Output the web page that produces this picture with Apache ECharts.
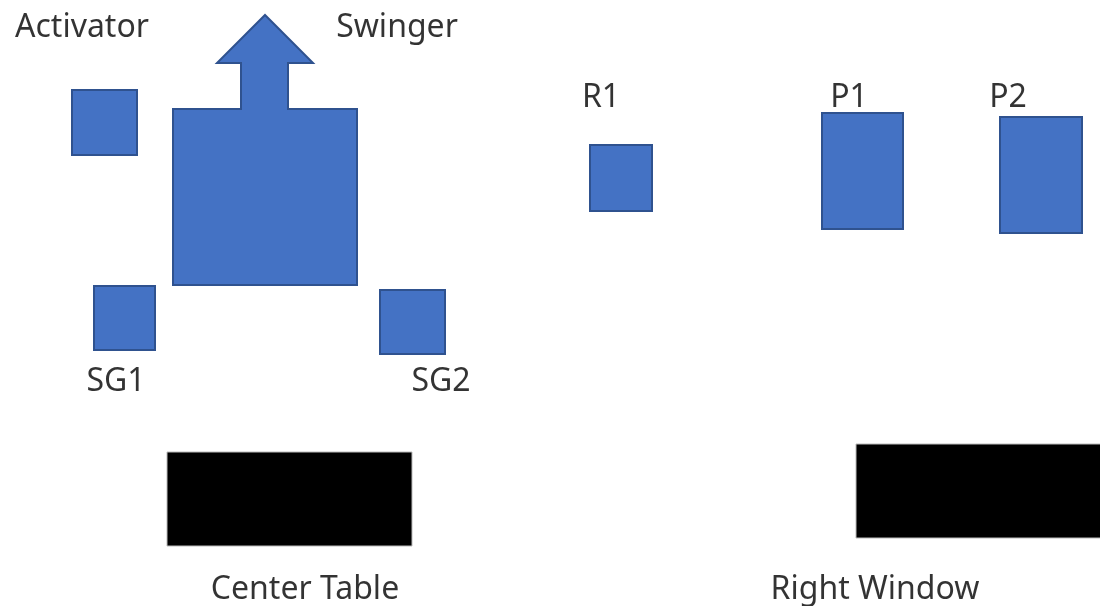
<!DOCTYPE html>
<html><head><meta charset="utf-8">
<script src="https://cdn.jsdelivr.net/npm/echarts@6/dist/echarts.min.js"></script>
<style>html,body{margin:0;padding:0;background:#fff}#c{width:1100px;height:606px}</style>
</head><body><div id="c"></div>
<script>
// Blue boxes: [x0, y0, x1, y1] in diagram units
const boxNames = ['Activator box','SG1 box','SG2 box','R1 box','P1 box','P2 box'];
const boxX0 = [72, 94, 380, 590, 822, 1000];
const boxY0 = [90, 286, 290, 145, 113, 117];
const boxX1 = [137, 155, 445, 652, 903, 1082];
const boxY1 = [155, 350, 354, 211, 229, 233];
// Black tables
const tableNames = ['Center Table','Right Window'];
const tableX0 = [167, 856];
const tableY0 = [452, 444];
const tableX1 = [412, 1102];
const tableY1 = [546, 538];
// Swinger shape (square with arrow on top)
const swingerX = [173, 241, 241, 217, 265, 313, 288, 288, 357, 357, 173];
const swingerY = [109, 109, 63, 63, 15, 63, 63, 109, 109, 285, 285];
// Labels
const labelText = ['Activator','Swinger','R1','P1','P2','SG1','SG2','Center Table','Right Window'];
const labelX = [82, 397, 601, 849, 1008, 116, 441, 305, 875];
const labelY = [28, 28, 98, 98, 98, 382, 382, 590, 590];

const chart = echarts.init(document.getElementById('c'));
const BLUE = '#4472C4', EDGE = '#2F528F';

const boxData = boxNames.map((n,i)=>[boxX0[i],boxY0[i],boxX1[i],boxY1[i]]);
const tableData = tableNames.map((n,i)=>[tableX0[i],tableY0[i],tableX1[i],tableY1[i]]);

function rectRender(fill, stroke, lw){
  return function(params, api){
    const p0 = api.coord([api.value(0), api.value(1)]);
    const p1 = api.coord([api.value(2), api.value(3)]);
    return {type:'rect', shape:{x:Math.min(p0[0],p1[0]), y:Math.min(p0[1],p1[1]), width:Math.abs(p1[0]-p0[0]), height:Math.abs(p1[1]-p0[1])},
      style:{fill:fill, stroke:stroke, lineWidth:lw}};
  };
}

chart.setOption({
  animation:false,
  grid:{left:0,right:0,top:0,bottom:0},
  xAxis:{type:'value',min:0,max:1100,show:false},
  yAxis:{type:'value',min:0,max:606,inverse:true,show:false},
  series:[
    {type:'custom', renderItem:rectRender(BLUE, EDGE, 2), data:boxData, silent:true},
    {type:'custom', renderItem:rectRender('#000', '#bbb', 1), data:tableData, silent:true},
    {type:'custom', data:[0], silent:true, renderItem:function(params, api){
      const pts = swingerX.map((x,i)=>api.coord([x, swingerY[i]]));
      return {type:'polygon', shape:{points:pts}, style:{fill:BLUE, stroke:EDGE, lineWidth:2}};
    }},
    {type:'scatter', symbolSize:0, silent:true,
      data:labelText.map((t,i)=>({value:[labelX[i],labelY[i]], name:t})),
      label:{show:true, position:'inside', formatter:'{b}', color:'#000', fontSize:32, fontFamily:'Noto Sans'}}
  ]
});
</script></body></html>
